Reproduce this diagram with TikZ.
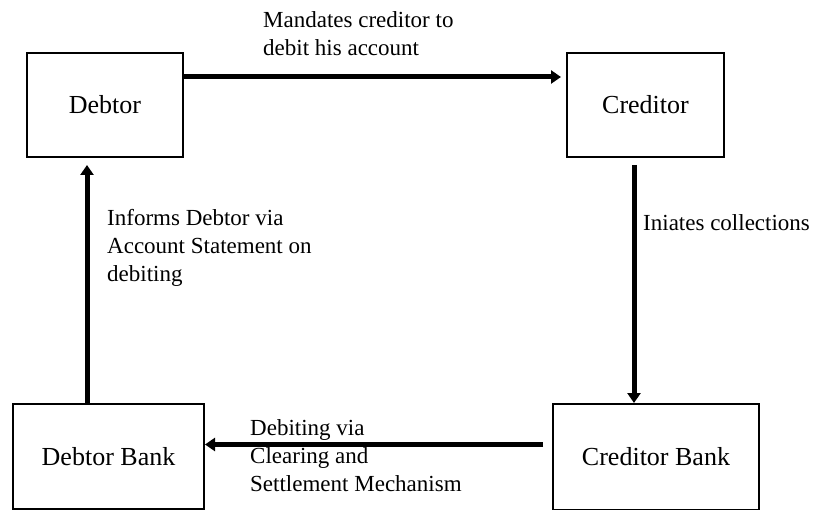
\documentclass[tikz,border=0pt]{standalone}
\usepackage{fontspec}
\setmainfont{Liberation Serif}
\usetikzlibrary{arrows.meta}

\begin{document}
\begin{tikzpicture}
[ x=1pt, y=-1pt
, block/.style={rectangle, draw, line width=2pt, inner sep=0pt, font=\fontsize{26}{30}\selectfont}
, label/.style={anchor=north west, inner sep=0pt, align=left, font=\fontsize{23}{28}\selectfont}
, flow/.style={line width=5pt, -{Triangle[length=10pt,width=13pt]}}
]
\useasboundingbox (0,0) rectangle (819,510);
% Parties:
\node (debtor) [block, minimum width=156pt, minimum height=104pt] at (105,105) {Debtor};
\node (creditor) [block, minimum width=157pt, minimum height=104pt] at (645.5,105) {Creditor};
% Banks:
\node (dbank) [block, minimum width=191pt, minimum height=105pt] at (108.5,456.5) {Debtor Bank};
\node (cbank) [block, minimum width=206pt, minimum height=106pt] at (656,457) {Creditor Bank};
% Labels:
\node (mandate) [label] at (263,11) {Mandates creditor to\\debit his account};
\node (inform) [label] at (107,209) {Informs Debtor via\\Account Statement on\\debiting};
\node (collect) [label] at (643,214) {Iniates collections};
\node (clear) [label] at (250,419) {Debiting via\\Clearing and\\Settlement Mechanism};
% Flows:
\draw [flow] ([yshift=28pt]debtor.east) -- ([yshift=28pt,xshift=-5pt]creditor.west);
\draw [flow] ([xshift=-11.5pt,yshift=-7pt]creditor.south) coordinate (c1) -- (c1 |- cbank.north);
\draw [flow] ([xshift=-9pt,yshift=12.5pt]cbank.west) coordinate (c2) -- (c2 -| dbank.east);
\path ([xshift=-18pt,yshift=-7pt]debtor.south) coordinate (d1);
\draw [flow] (d1 |- dbank.north) -- (d1);
\end{tikzpicture}
\end{document}
